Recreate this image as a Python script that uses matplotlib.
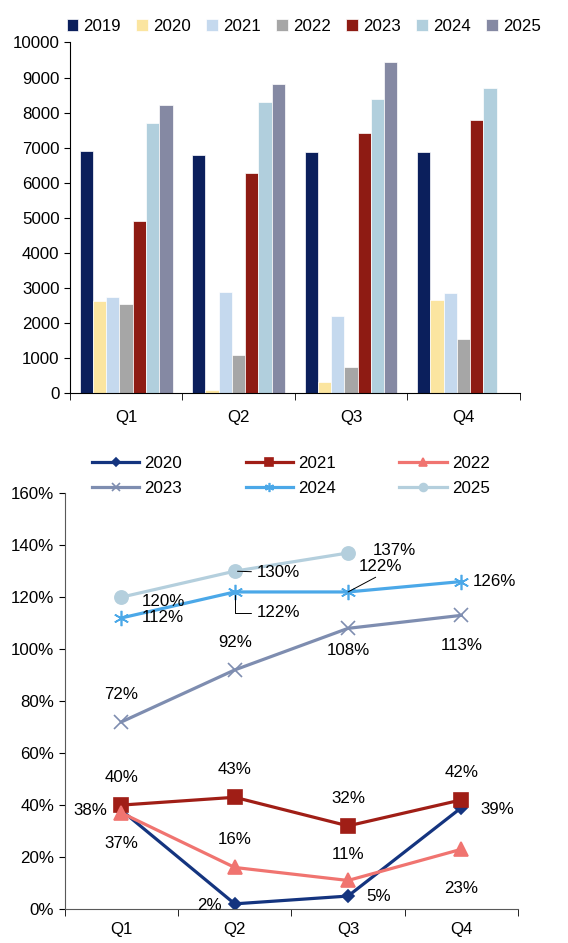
import numpy as np
import matplotlib.pyplot as plt

plt.rcParams["font.family"] = ["Liberation Sans", "DejaVu Sans"]
plt.rcParams["font.size"] = 12.2

quarters = ["Q1", "Q2", "Q3", "Q4"]

# --- bar chart data ---------------------------------------------------------
bar_years = ["2019", "2020", "2021", "2022", "2023", "2024", "2025"]
v2019 = [6900, 6800, 6890, 6890]
v2020 = [2630, 100, 320, 2650]
v2021 = [2750, 2900, 2200, 2870]
v2022 = [2540, 1100, 760, 1560]
v2023 = [4920, 6270, 7420, 7800]
v2024 = [7700, 8290, 8380, 8690]
v2025 = [8220, 8810, 9450, np.nan]
bar_colors = ["#0B1F5C", "#FBE5A0", "#C5D9EE", "#A6A6A6", "#8E1B13", "#B1CFDD", "#8589A3"]

# --- line chart data (%) ----------------------------------------------------
line_years = ["2020", "2021", "2022", "2023", "2024", "2025"]
p2020 = [38, 2, 5, 39]
p2021 = [40, 43, 32, 42]
p2022 = [37, 16, 11, 23]
p2023 = [72, 92, 108, 113]
p2024 = [112, 122, 122, 126]
p2025 = [120, 130, 137, np.nan]
line_colors = ["#14347F", "#A01E16", "#F07470", "#7E8DB0", "#4BA8E8", "#B4CFDD"]
markers = ["D", "s", "^", "x", (6, 2, 0), "o"]
msizes = [6.5, 9.5, 10, 10, 11, 9.5]

fig = plt.figure(figsize=(5.68, 9.43), dpi=100)

# --- top: bars --------------------------------------------------------------
ax1 = fig.add_axes([0.123, 0.583, 0.792, 0.372])
x = np.arange(len(quarters))
w = 0.118
for i, (yr, vals) in enumerate(zip(bar_years, [v2019, v2020, v2021, v2022, v2023, v2024, v2025])):
    ax1.bar(x + (i - 3) * w, vals, width=w, color=bar_colors[i], label=yr,
            edgecolor="white", linewidth=0.5)
ax1.set_xlim(-0.5, 3.5)
ax1.set_ylim(0, 10000)
ax1.set_yticks(range(0, 10001, 1000))
ax1.set_xticks(x)
ax1.set_xticklabels(quarters)
ax1.set_xticks(np.arange(-0.5, 4, 1), minor=True)
ax1.tick_params(axis="x", which="major", length=0, pad=12)
ax1.tick_params(axis="x", which="minor", length=5, direction="out")
ax1.tick_params(axis="y", length=4, direction="out")
for s in ["top", "right"]:
    ax1.spines[s].set_visible(False)
ax1.legend(loc="lower center", bbox_to_anchor=(0.52, 1.005), ncol=7, frameon=False,
           handlelength=0.7, handleheight=0.7, handletextpad=0.3, columnspacing=0.9,
           borderaxespad=0.0)

# --- bottom: lines ----------------------------------------------------------
ax2 = fig.add_axes([0.114, 0.036, 0.798, 0.441])
series = [p2020, p2021, p2022, p2023, p2024, p2025]
handles = []
for i, (yr, vals) in enumerate(zip(line_years, series)):
    h, = ax2.plot(x, vals, color=line_colors[i], lw=2.3, marker=markers[i], ms=msizes[i],
                  mew=1.2, label=yr)
    handles.append(h)
ax2.set_xlim(-0.5, 3.5)
ax2.set_ylim(0, 160)
ax2.set_yticks(range(0, 161, 20))
ax2.set_yticklabels([f"{v}%" for v in range(0, 161, 20)])
ax2.set_xticks(x)
ax2.set_xticklabels(quarters)
ax2.set_xticks(np.arange(-0.5, 4, 1), minor=True)
ax2.tick_params(axis="x", which="major", length=0, pad=9)
ax2.tick_params(axis="x", which="minor", length=5, direction="out")
ax2.tick_params(axis="y", length=4, direction="out")
for s in ["top", "right"]:
    ax2.spines[s].set_visible(False)
for s in ["left", "bottom"]:
    ax2.spines[s].set_color("#595959")
# legend is filled row by row: 2020 2021 2022 / 2023 2024 2025
order = [0, 3, 1, 4, 2, 5]
fig.legend([handles[k] for k in order], [line_years[k] for k in order],
           loc="upper center", bbox_to_anchor=(0.512, 0.533), ncol=3, frameon=False,
           handlelength=2.8, handletextpad=0.3, columnspacing=3.75, labelspacing=0.6,
           markerscale=0.6)

# data labels: offsets in points
def lab(vals, i, dx, dy, ha="center"):
    ax2.annotate(f"{vals[i]:.0f}%", (x[i], vals[i]), xytext=(dx, dy),
                 textcoords="offset points", ha=ha, va="center")

lab(p2020, 0, -10, 0, "right"); lab(p2020, 1, -9, -1, "right")
lab(p2020, 2, 13, 0, "left"); lab(p2020, 3, 14, -1, "left")
for i in range(4):
    lab(p2021, i, 0, 20)
lab(p2022, 0, 0, -22); lab(p2022, 1, 0, 20); lab(p2022, 2, 0, 19); lab(p2022, 3, 0, -28)
lab(p2023, 0, 0, 20); lab(p2023, 1, 0, 20); lab(p2023, 2, 0, -16); lab(p2023, 3, 0, -22)
lab(p2024, 0, 15, 0, "left"); lab(p2024, 3, 8, 0, "left")
lab(p2025, 0, 15, -3, "left")
# labels with leader lines
ax2.annotate(f"{p2024[1]}%", (x[1], p2024[1]), xytext=(16, -15), textcoords="offset points",
             ha="left", va="center",
             arrowprops=dict(arrowstyle="-", color="black", lw=0.7, connectionstyle="angle,angleA=0,angleB=90,rad=0"))
ax2.annotate(f"{p2024[2]}%", (x[2], p2024[2]), xytext=(8, 18), textcoords="offset points",
             ha="left", va="center",
             arrowprops=dict(arrowstyle="-", color="black", lw=0.7, shrinkA=0, shrinkB=0,
                             relpos=(0.5, 0.0)))
ax2.annotate(f"{p2025[1]}%", (x[1], p2025[1]), xytext=(16, -1), textcoords="offset points",
             ha="left", va="center",
             arrowprops=dict(arrowstyle="-", color="black", lw=0.7, shrinkB=2))
lab(p2025, 2, 18, 2, "left")

fig.savefig("out.png", dpi=100)
